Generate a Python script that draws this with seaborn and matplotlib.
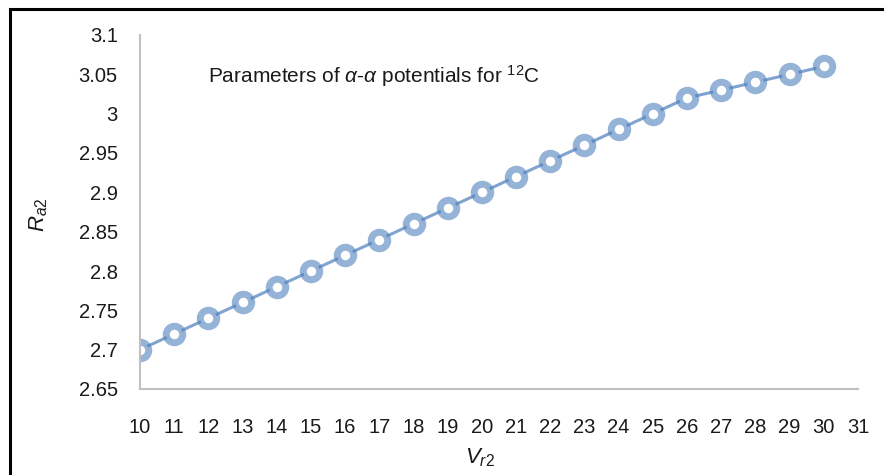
import matplotlib
matplotlib.use("Agg")
import matplotlib.pyplot as plt
import seaborn as sns
import pandas as pd
from matplotlib.patches import Rectangle

v_r2 = [10, 11, 12, 13, 14, 15, 16, 17, 18, 19, 20, 21, 22, 23, 24, 25, 26, 27, 28, 29, 30]
r_a2 = [2.70, 2.72, 2.74, 2.76, 2.78, 2.80, 2.82, 2.84, 2.86, 2.88, 2.90, 2.92, 2.94,
        2.96, 2.98, 3.00, 3.02, 3.03, 3.04, 3.05, 3.06]
x_ticks = list(range(10, 32))
y_ticks = [2.65, 2.7, 2.75, 2.8, 2.85, 2.9, 2.95, 3.0, 3.05, 3.1]
y_tick_labels = ["2.65", "2.7", "2.75", "2.8", "2.85", "2.9", "2.95", "3", "3.05", "3.1"]

df = pd.DataFrame({"V": v_r2, "R": r_a2})

sns.set_theme(style="white")
plt.rcParams["font.family"] = ["Liberation Sans", "DejaVu Sans"]
plt.rcParams["mathtext.fontset"] = "custom"
plt.rcParams["mathtext.rm"] = "Liberation Sans"
plt.rcParams["mathtext.it"] = "Liberation Sans:italic"
plt.rcParams["mathtext.bf"] = "Liberation Sans:bold"

W, H = 884, 475
fig = plt.figure(figsize=(W / 100, H / 100), dpi=100)
ax = fig.add_axes([140 / W, 1 - 389 / H, (858 - 140) / W, (389 - 35) / H])

blue = (79 / 255, 129 / 255, 189 / 255)
sns.lineplot(data=df, x="V", y="R", ax=ax, color=blue + (0.72,),
             linewidth=2.2, marker="o", markersize=11.9,
             markeredgewidth=5.0, markerfacecolor="white",
             markeredgecolor=blue + (0.6,))

ax.set_xlim(10, 31)
ax.set_ylim(2.65, 3.1)
ax.set_xticks(x_ticks)
ax.set_xticklabels([str(t) for t in x_ticks])
ax.set_yticks(y_ticks)
ax.set_yticklabels(y_tick_labels)
ax.tick_params(axis="both", length=0, labelsize=14.5, colors="#1a1a1a")
ax.tick_params(axis="x", pad=21)
ax.tick_params(axis="y", pad=16)

for s in ["top", "right"]:
    ax.spines[s].set_visible(False)
for s in ["left", "bottom"]:
    ax.spines[s].set_color("#c0c0c0")
    ax.spines[s].set_linewidth(1.5)

ax.set_xlabel(r"$V_{r2}$", fontsize=16, color="#1a1a1a", va="center")
ax.set_ylabel(r"$R_{a2}$", fontsize=16, color="#1a1a1a", va="center")
ax.xaxis.set_label_coords((480 - 140) / (858 - 140), -(458 - 389) / (389 - 35))
ax.yaxis.set_label_coords(-(140 - 39) / (858 - 140), (389 - 215) / (389 - 35))

fig.text(208 / W, 1 - 76 / H,
         r"Parameters of $\alpha$-$\alpha$ potentials for $^{12}$C",
         fontsize=15, va="center", ha="left", color="#1a1a1a")

fig.patches.append(Rectangle((10 / W, -0.1), 1.2, 1 - 9 / H + 0.1,
                             transform=fig.transFigure, fill=False,
                             edgecolor="black", linewidth=2.2))

fig.savefig("out.png", dpi=100)
